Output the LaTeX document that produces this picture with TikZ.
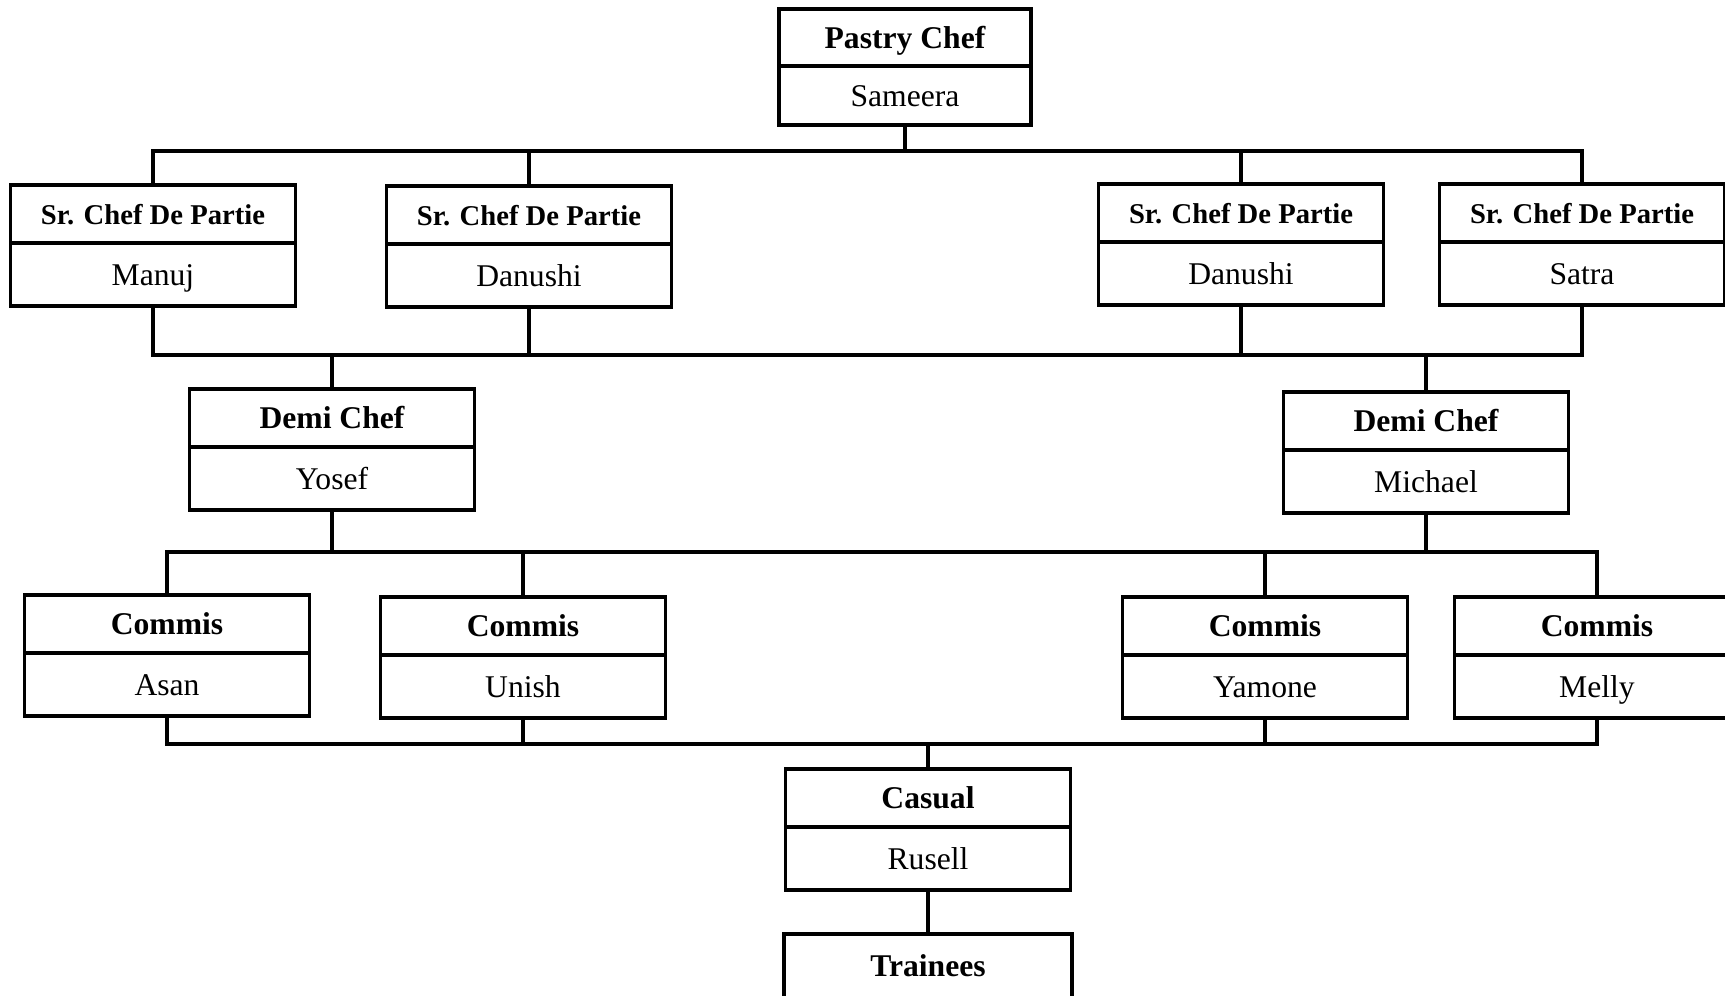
\documentclass[tikz,border=0pt]{standalone}
\usepackage{fontspec}
\setmainfont{Liberation Serif}
\usetikzlibrary{positioning}

\tikzset{
  head/.style={draw, line width=2.1pt, outer sep=0pt, inner sep=0pt,
    minimum width=5.7cm, minimum height=1.16cm, text height=12pt, text depth=0pt,
    font=\bfseries\fontsize{18}{20}\selectfont},
  who/.style={draw, line width=2.1pt, outer sep=0pt, inner sep=0pt,
    minimum width=5.7cm, minimum height=1.26cm, text height=12pt, text depth=0pt,
    font=\fontsize{18}{20}\selectfont},
  srhead/.style={head, font=\bfseries\fontsize{16.3}{19}\selectfont},
  link/.style={line width=2.1pt, line join=miter},
}

\begin{document}
\begin{tikzpicture}[x=0.02cm, y=-0.02cm]
        \useasboundingbox (0,0) rectangle (1725,995);
        \clip (0,0) rectangle (1725,995);
        \coordinate (bus1) at (0,151);
        \coordinate (bus2) at (0,355);
        \coordinate (bus3) at (0,552);
        \coordinate (bus4) at (0,744);
        % top
        \node[head, minimum width=5.04cm, minimum height=1.14cm] (pc) at (905,37.5) {Pastry Chef};
        \node[who, minimum width=5.04cm, minimum height=1.18cm, below=0pt of pc] (pcn) {Sameera};
        % sr. chef de partie
        \node[srhead] (s1) at (153,214) {Sr. Chef De Partie};
        \node[who, below=0pt of s1] (s1n) {Manuj};
        \node[srhead] (s2) at (529,215) {Sr. Chef De Partie};
        \node[who, below=0pt of s2] (s2n) {Danushi};
        \node[srhead] (s3) at (1241,213) {Sr. Chef De Partie};
        \node[who, below=0pt of s3] (s3n) {Danushi};
        \node[srhead] (s4) at (1582,213) {Sr. Chef De Partie};
        \node[who, below=0pt of s4] (s4n) {Satra};
        % demi chef
        \node[head] (d1) at (332,418) {Demi Chef};
        \node[who, below=0pt of d1] (d1n) {Yosef};
        \node[head] (d2) at (1426,421) {Demi Chef};
        \node[who, below=0pt of d2] (d2n) {Michael};
        % commis
        \node[head] (c1) at (167,624) {Commis};
        \node[who, below=0pt of c1] (c1n) {Asan};
        \node[head] (c2) at (523,626) {Commis};
        \node[who, below=0pt of c2] (c2n) {Unish};
        \node[head] (c3) at (1265,626) {Commis};
        \node[who, below=0pt of c3] (c3n) {Yamone};
        \node[head] (c4) at (1597,626) {Commis};
        \node[who, below=0pt of c4] (c4n) {Melly};
        % casual, trainees
        \node[head] (ca) at (928,798) {Casual};
        \node[who, below=0pt of ca] (can) {Rusell};
        \node[head, minimum width=5.76cm, minimum height=1.28cm] (tr) at (928,966) {Trainees};
        % links
        \draw[link] (pcn.south) -- (pcn.south |- bus1);
        \draw[link] (s1.north) -- (s1.north |- bus1) -- (s4.north |- bus1) -- (s4.north);
        \foreach \n in {s2,s3} \draw[link] (\n.north) -- (\n.north |- bus1);
        \draw[link] (s1n.south) -- (s1n.south |- bus2) -- (s4n.south |- bus2) -- (s4n.south);
        \foreach \n in {s2n,s3n} \draw[link] (\n.south) -- (\n.south |- bus2);
        \foreach \n in {d1,d2} \draw[link] (\n.north) -- (\n.north |- bus2);
        \draw[link] (c1.north) -- (c1.north |- bus3) -- (c4.north |- bus3) -- (c4.north);
        \foreach \n in {c2,c3} \draw[link] (\n.north) -- (\n.north |- bus3);
        \foreach \n in {d1n,d2n} \draw[link] (\n.south) -- (\n.south |- bus3);
        \draw[link] (c1n.south) -- (c1n.south |- bus4) -- (c4n.south |- bus4) -- (c4n.south);
        \foreach \n in {c2n,c3n} \draw[link] (\n.south) -- (\n.south |- bus4);
        \draw[link] (ca.north) -- (ca.north |- bus4);
        \draw[link] (can) -- (tr);
    \end{tikzpicture}
\end{document}
